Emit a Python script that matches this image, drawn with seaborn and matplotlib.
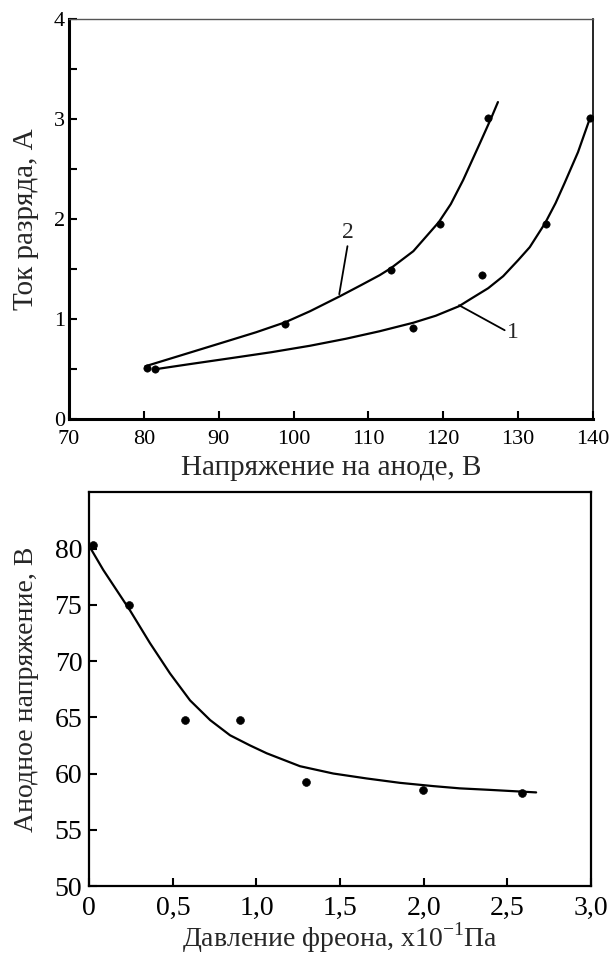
import numpy as np
import pandas as pd
import seaborn as sns
from matplotlib import pyplot as plt

# top plot: discharge current vs anode voltage
pts2_x = [80.4, 98.8, 113.0, 119.6, 126.0]
pts2_y = [0.51, 0.95, 1.49, 1.95, 3.01]
pts1_x = [81.5, 115.9, 125.2, 133.7, 139.6]
pts1_y = [0.50, 0.915, 1.44, 1.95, 3.01]

curve2_x = [80.2, 85, 91.1, 95, 98.9, 102.2, 106.2, 109, 111.5, 113, 116, 119.4, 121, 122.65, 124.9, 126.4, 127.3]
curve2_y = [0.53, 0.64, 0.78, 0.87, 0.97, 1.08, 1.23, 1.34, 1.44, 1.51, 1.68, 1.97, 2.15, 2.39, 2.76, 3.01, 3.17]
curve1_x = [81.5, 86, 92, 97, 102.2, 107, 111.5, 116, 119, 122.1, 123.6, 126, 128, 130, 131.55, 133.6, 135,
            136.2, 138, 139.6]
curve1_y = [0.50, 0.55, 0.615, 0.67, 0.735, 0.805, 0.88, 0.965, 1.035, 1.13, 1.20, 1.31, 1.43, 1.59, 1.72, 1.96,
            2.16, 2.36, 2.67, 3.01]

top_xticks = [70, 80, 90, 100, 110, 120, 130, 140]
top_yticks = [0, 0.5, 1, 1.5, 2, 2.5, 3, 3.5, 4]
top_ylabels = ["0", "", "1", "", "2", "", "3", "", "4"]

# bottom plot: anode voltage vs freon pressure
pres_pts = [0.02, 0.24, 0.573, 0.90, 1.296, 1.993, 2.585]
volt_pts = [80.3, 75.0, 64.8, 64.75, 59.26, 58.53, 58.3]
pres_curve = [0.009, 0.084, 0.164, 0.244, 0.363, 0.483, 0.603, 0.723, 0.842, 0.961, 1.061, 1.26, 1.459, 1.659,
              1.858, 2.057, 2.216, 2.39, 2.672]
volt_curve = [80.0, 78.1, 76.3, 74.5, 71.6, 68.9, 66.5, 64.75, 63.4, 62.5, 61.8, 60.65, 60.0, 59.56, 59.17, 58.88,
              58.68, 58.55, 58.32]

bot_xticks = [0, 0.5, 1.0, 1.5, 2.0, 2.5, 3.0]
bot_xlabels = ["0", "0,5", "1,0", "1,5", "2,0", "2,5", "3,0"]
bot_yticks = [50, 55, 60, 65, 70, 75, 80]

sns.set_style("ticks")
plt.rcParams['font.family'] = ['Liberation Serif', 'DejaVu Serif']
plt.rcParams['mathtext.fontset'] = 'custom'
plt.rcParams['mathtext.rm'] = 'Liberation Serif'

fig = plt.figure(figsize=(6.13, 9.6), dpi=100)
ax1 = fig.add_axes([69 / 613, 1 - 419.3 / 960, 524 / 613, 400.3 / 960])
ax2 = fig.add_axes([89.2 / 613, 1 - 886 / 960, 501.8 / 613, 393.7 / 960])

# --- top ---
sns.lineplot(x=curve2_x, y=curve2_y, sort=False, color="black", lw=1.6, ax=ax1)
sns.lineplot(x=curve1_x, y=curve1_y, sort=False, color="black", lw=1.6, ax=ax1)
sns.scatterplot(x=pts2_x + pts1_x, y=pts2_y + pts1_y, color="black", s=28, edgecolor="black", ax=ax1, zorder=3)
ax1.plot([107.2, 106.1], [1.73, 1.25], color="black", lw=1.3)
ax1.text(107.3, 1.87, "2", fontsize=17, ha="center", va="center")
ax1.plot([128.2, 122.1], [0.89, 1.14], color="black", lw=1.3)
ax1.text(129.3, 0.87, "1", fontsize=17, ha="center", va="center")

ax1.set_xlim(70, 140)
ax1.set_ylim(0, 4)
ax1.set_xticks(top_xticks)
ax1.set_yticks(top_yticks)
ax1.set_yticklabels(top_ylabels)
ax1.tick_params(direction="in", length=6, width=1.5, labelsize=16, colors="black")
ax1.tick_params(axis="x", pad=8)
ax1.tick_params(axis="y", pad=3)
ax1.set_xlabel("Напряжение на аноде, В", fontsize=21, labelpad=4)
ax1.set_ylabel("Ток разряда, А", fontsize=21)
ax1.yaxis.set_label_coords(-0.058, 0.5)
for s in ["left", "bottom"]:
    ax1.spines[s].set_linewidth(2.2)
    ax1.spines[s].set_color("black")
ax1.spines["top"].set_linewidth(1.0)
ax1.spines["top"].set_color("#555555")
ax1.spines["right"].set_linewidth(1.2)
ax1.spines["right"].set_color("black")

# --- bottom ---
sns.lineplot(x=pres_curve, y=volt_curve, sort=False, color="black", lw=1.6, ax=ax2)
sns.scatterplot(x=pres_pts, y=volt_pts, color="black", s=32, edgecolor="black", ax=ax2, zorder=3)
ax2.set_xlim(0, 3.0)
ax2.set_ylim(50, 85)
ax2.set_xticks(bot_xticks)
ax2.set_xticklabels(bot_xlabels)
ax2.set_yticks(bot_yticks)
ax2.tick_params(direction="in", length=6, width=1.5, labelsize=20, colors="black")
ax2.tick_params(axis="x", pad=7)
ax2.tick_params(axis="y", pad=5)
ax2.set_xlabel("Давление фреона, x10$^{\\mathrm{-1}}$Па", fontsize=20, labelpad=0)
ax2.set_ylabel("Анодное напряжение, В", fontsize=20)
ax2.yaxis.set_label_coords(-0.1, 0.5)
for s in ["left", "bottom", "top", "right"]:
    ax2.spines[s].set_linewidth(1.6)
    ax2.spines[s].set_color("black")

fig.savefig("out.png", dpi=100, facecolor="white")
